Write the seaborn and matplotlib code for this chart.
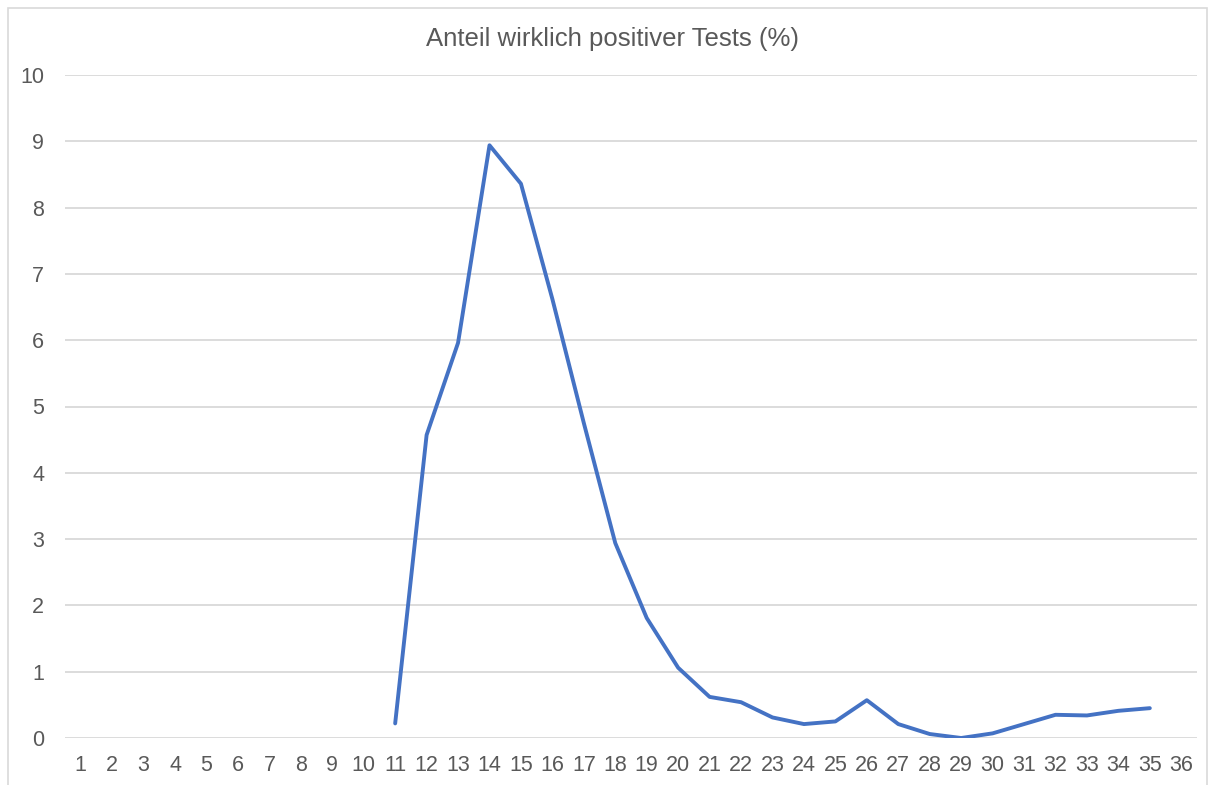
import numpy as np
import pandas as pd
import matplotlib
matplotlib.use("Agg")
import matplotlib.pyplot as plt
import seaborn as sns

# categories 1..36, values only from 11 to 35
weeks = list(range(1, 37))
share = [np.nan] * 10 + [
    0.22, 4.57, 5.96, 8.94, 8.36, 6.62, 4.75, 2.94, 1.81, 1.06,
    0.62, 0.54, 0.31, 0.21, 0.25, 0.57, 0.21, 0.06, 0.0, 0.07,
    0.21, 0.35, 0.34, 0.41, 0.45,
] + [np.nan]
title = "Anteil wirklich positiver Tests (%)"

df = pd.DataFrame({"week": weeks, "share": share})

sns.set_style("white")
plt.rcParams["font.family"] = ["Liberation Sans", "DejaVu Sans"]

W, H = 1213, 785
fig = plt.figure(figsize=(W / 100, H / 100), dpi=100)
ax = fig.add_axes([65 / W, (H - 738) / H, (1197 - 65) / W, (738 - 75) / H])

# light frame around the chart area like the original screenshot
fig.patches.append(plt.Rectangle((8 / W, -0.01), (1207 - 8) / W, (H - 8) / H + 0.01,
                                 transform=fig.transFigure, fill=False,
                                 edgecolor="#D9D9D9", linewidth=1.2))

sns.lineplot(data=df, x="week", y="share", ax=ax, color="#4472C4",
             linewidth=2.8)

ax.set_xlim(0.5, 36.5)
ax.set_ylim(0, 10)
ax.set_xticks(weeks)
ax.set_xticklabels([str(w) for w in weeks])
ax.set_yticks(range(0, 11))
ax.yaxis.grid(True, color="#D9D9D9", linewidth=1.3)
ax.set_axisbelow(True)
for s in ax.spines.values():
    s.set_visible(False)
ax.tick_params(axis="both", length=0, labelsize=15.5, colors="#595959")
ax.tick_params(axis="x", pad=12)
ax.tick_params(axis="y", pad=15)
ax.set_xlabel("")
ax.set_ylabel("")

fig.text((421 + 803) / 2 / W, 1 - 39 / H, title, ha="center", va="center",
         fontsize=18.5, color="#595959")

fig.savefig("out.png", dpi=100)
